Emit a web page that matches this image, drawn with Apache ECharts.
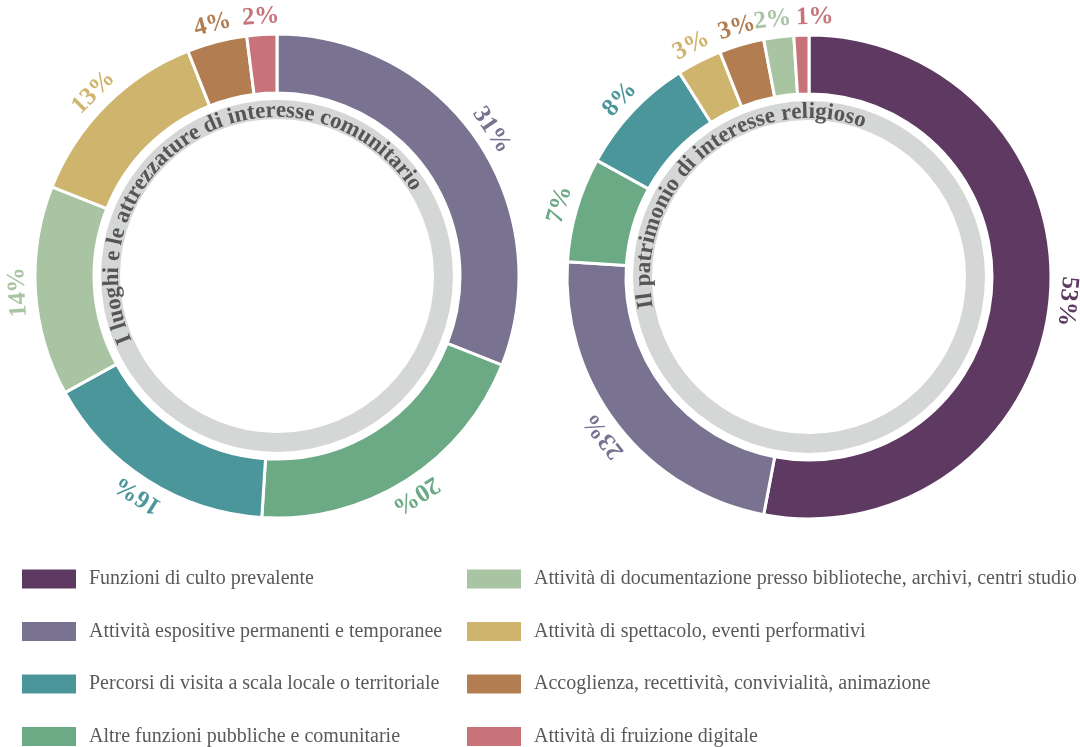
<!DOCTYPE html>
<html><head><meta charset="utf-8">
<script src="https://cdn.jsdelivr.net/npm/echarts@6/dist/echarts.min.js"></script>
<style>html,body{margin:0;padding:0;background:#fff}#c{width:1080px;height:747px}</style>
</head><body><div id="c"></div>
<script>
const categories = [
  'Funzioni di culto prevalente',
  'Attività espositive permanenti e temporanee',
  'Percorsi di visita a scala locale o territoriale',
  'Altre funzioni pubbliche e comunitarie',
  'Attività di documentazione presso biblioteche, archivi, centri studio',
  'Attività di spettacolo, eventi performativi',
  'Accoglienza, recettività, convivialità, animazione',
  'Attività di fruizione digitale'
];
const colors = ['#5E3A62','#7A7291','#4A969B','#6BAA84','#A9C4A2','#CFB46E','#B27D50','#C8737A'];

const leftTitle = 'I luoghi e le attrezzature di interesse comunitario';
const leftNames = [categories[1], categories[3], categories[2], categories[4], categories[5], categories[6], categories[7]];
const leftValues = [31, 20, 16, 14, 13, 4, 2];

const rightTitle = 'Il patrimonio di interesse religioso';
const rightNames = [categories[0], categories[1], categories[3], categories[2], categories[5], categories[6], categories[4], categories[7]];
const rightValues = [53, 23, 7, 8, 3, 3, 2, 1];

const SERIF = "'Liberation Serif', 'DejaVu Serif', serif";
const RING = [183, 242];
const GRAY = [157, 176];
const LABEL_RING = [242, 271];

function colorOf(n) { return colors[categories.indexOf(n)]; }

function donut(names, values, center) {
  const total = values.reduce((a, b) => a + b, 0);
  const last = values.length - 1;
  let cum = 0;
  const labelData = values.map((v, i) => {
    const mid = (cum + v / 2) / total; cum += v;
    return { name: names[i], value: v, itemStyle: { color: 'rgba(0,0,0,0)' },
      label: { rotate: -360 * mid, color: colorOf(names[i]) } };
  });
  return [
    { type: 'pie', center, radius: GRAY, silent: true, startAngle: 90, legendHoverLink: false,
      label: { show: false }, labelLine: { show: false },
      data: [{ name: '_bg', value: 1, itemStyle: { color: '#D5D7D6' } }] },
    { type: 'pie', center, radius: RING, startAngle: 90, clockwise: true,
      itemStyle: { borderColor: '#fff', borderWidth: 3 },
      label: { show: false }, labelLine: { show: false },
      data: values.map((v, i) => ({ name: names[i], value: v, itemStyle: { color: colorOf(names[i]) } })) },
    { type: 'pie', center, radius: LABEL_RING, startAngle: 90, clockwise: true, silent: true,
      legendHoverLink: false, emphasis: { disabled: true }, avoidLabelOverlap: false,
      // spread apart the labels of two tiny neighbouring slices near the top
      labelLayout: function (p) {
        const tiny = values[last] / total < 0.015;
        if (!tiny) return { hideOverlap: false };
        if (p.dataIndex === last) return { dx: 14, hideOverlap: false };
        if (p.dataIndex === last - 1) return { dx: -4, hideOverlap: false };
        return { hideOverlap: false };
      },
      label: { show: true, position: 'inside', formatter: '{c}%', fontFamily: SERIF, fontSize: 25, fontWeight: 'bold' },
      labelLine: { show: false }, data: labelData }
  ];
}

// text laid along an arc, clockwise from startDeg over spanDeg
function arcText(str, cx, cy, r, startDeg, spanDeg, font, color) {
  const ctx = document.createElement('canvas').getContext('2d');
  ctx.font = font;
  const chars = [...str];
  const natural = ctx.measureText(str).width;
  const target = spanDeg * Math.PI / 180 * r;
  const extra = (target - natural) / (chars.length - 1);
  const start = startDeg * Math.PI / 180;
  const els = [];
  let acc = 0, prev = 0;
  chars.forEach((ch, i) => {
    const wEnd = ctx.measureText(chars.slice(0, i + 1).join('')).width;
    const w = wEnd - prev; prev = wEnd;
    const a = start - (acc + w / 2) / r;
    acc += w + extra;
    if (ch === ' ') return;
    els.push({ type: 'text', x: cx + r * Math.cos(a), y: cy - r * Math.sin(a), rotation: a - Math.PI / 2,
      z: 100, silent: true,
      style: { text: ch, font, fill: color, align: 'center', verticalAlign: 'middle',
        textAlign: 'center', textVerticalAlign: 'middle' } });
  });
  return els;
}

function legendData(idx) {
  return idx.map(i => ({ name: categories[i], itemStyle: { color: colors[i], borderWidth: 0 } }));
}
const legendBase = { orient: 'vertical', top: 569, padding: 0, height: 178, itemWidth: 54, itemHeight: 19, itemGap: 32.5, icon: 'rect',
  itemStyle: { borderWidth: 0 }, selectedMode: false,
  textStyle: { fontFamily: SERIF, fontSize: 20, color: '#595959', padding: [0, 0, 0, 8] } };

const LC = [277, 276], RC = [809, 277];
const titleFont = "bold 23px " + SERIF;
const option = {
  animation: false,
  backgroundColor: '#fff',
  legend: [
    Object.assign({}, legendBase, { left: 22, data: legendData([0, 1, 2, 3]) }),
    Object.assign({}, legendBase, { left: 467, data: legendData([4, 5, 6, 7]) })
  ],
  graphic: arcText(leftTitle, LC[0], LC[1], 165, 204, 172, titleFont, '#555')
    .concat(arcText(rightTitle, RC[0], RC[1], 165, 191, 121, titleFont, '#555')),
  series: donut(leftNames, leftValues, LC).concat(donut(rightNames, rightValues, RC))
};
const chart = echarts.init(document.getElementById('c'));
chart.setOption(option);
</script></body></html>
